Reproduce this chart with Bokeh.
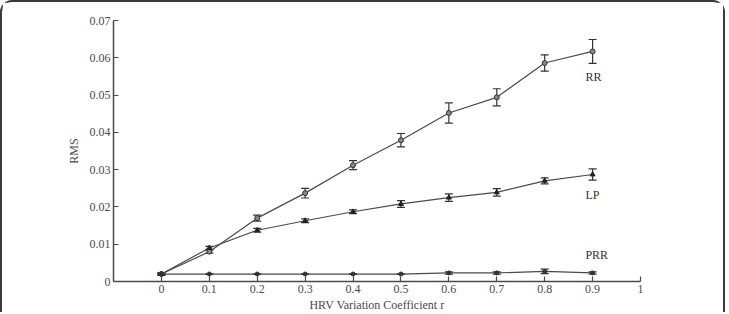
from bokeh.plotting import figure
from bokeh.models import ColumnDataSource, Whisker, TeeHead, FixedTicker, Label, Range1d
from bokeh.embed import file_html
from bokeh.resources import INLINE

r = [0, 0.1, 0.2, 0.3, 0.4, 0.5, 0.6, 0.7, 0.8, 0.9]
rr = [0.002, 0.008, 0.0170, 0.0237, 0.0312, 0.0379, 0.0452, 0.0494, 0.0586, 0.0617]
rr_err = [0.0003, 0.0004, 0.0008, 0.0013, 0.0012, 0.0018, 0.0027, 0.0023, 0.0022, 0.0032]
lp = [0.002, 0.009, 0.01375, 0.0163, 0.0187, 0.0208, 0.0225, 0.0239, 0.0270, 0.0287]
lp_err = [0.0003, 0.0004, 0.0005, 0.0005, 0.0005, 0.0009, 0.0010, 0.0010, 0.0008, 0.0015]
prr = [0.002, 0.002, 0.002, 0.002, 0.002, 0.002, 0.0023, 0.0023, 0.0027, 0.0023]
prr_err = [0.0002, 0.0001, 0.0001, 0.0001, 0.0001, 0.0001, 0.0003, 0.0003, 0.0006, 0.0003]

x_ticks = [0, 0.1, 0.2, 0.3, 0.4, 0.5, 0.6, 0.7, 0.8, 0.9, 1.0]
x_labels = ["0", "0.1", "0.2", "0.3", "0.4", "0.5", "0.6", "0.7", "0.8", "0.9", "1"]
y_ticks = [0, 0.01, 0.02, 0.03, 0.04, 0.05, 0.06, 0.07]
y_labels = ["0", "0.01", "0.02", "0.03", "0.04", "0.05", "0.06", "0.07"]

series_names = ["RR", "LP", "PRR"]
label_pos_x = [0.885, 0.885, 0.885]
label_pos_y = [0.0548, 0.0232, 0.0072]

FONT = "Liberation Serif"
GREY = "#4a4a4a"

p = figure(width=725, height=312, output_backend="svg", toolbar_location=None,
           x_range=Range1d(-0.1, 1.0), y_range=Range1d(0, 0.07),
           min_border_left=111, min_border_right=87, min_border_top=18, min_border_bottom=25)
p.styles = {"border": "2px solid #3a3a3a", "border-bottom": "none",
            "border-radius": "12px 12px 0 0"}
p.grid.visible = False
p.outline_line_color = None

for ax in (p.xaxis[0], p.yaxis[0]):
    ax.axis_line_color = GREY
    ax.axis_line_width = 1.5
    ax.major_tick_line_color = GREY
    ax.major_tick_line_width = 1.2
    ax.major_tick_in = 5
    ax.major_tick_out = 0
    ax.minor_tick_line_color = None
    ax.major_label_text_font = FONT
    ax.major_label_text_font_size = "12px"
    ax.major_label_text_color = GREY
    ax.axis_label_text_font = FONT
    ax.axis_label_text_font_size = "12px"
    ax.axis_label_text_font_style = "normal"
    ax.axis_label_text_color = GREY

p.xaxis.ticker = FixedTicker(ticks=x_ticks)
p.xaxis.major_label_overrides = {t: l for t, l in zip(x_ticks, x_labels)}
p.xaxis.axis_label = "HRV Variation Coefficient r"
p.xaxis.major_label_standoff = 3
p.xaxis.axis_label_standoff = 2
p.yaxis.ticker = FixedTicker(ticks=y_ticks)
p.yaxis.major_label_overrides = {t: l for t, l in zip(y_ticks, y_labels)}
p.yaxis.axis_label = "RMS"
p.yaxis.major_label_standoff = 3
p.yaxis.axis_label_standoff = 6

all_series = [(rr, rr_err), (lp, lp_err), (prr, prr_err)]
for i, (vals, errs) in enumerate(all_series):
    src = ColumnDataSource(dict(x=r, y=vals,
                                lo=[v - e for v, e in zip(vals, errs)],
                                hi=[v + e for v, e in zip(vals, errs)]))
    p.line("x", "y", source=src, line_color=GREY, line_width=1.2)
    w = Whisker(base="x", upper="hi", lower="lo", source=src,
                line_color="#333333", line_width=1.2,
                upper_head=TeeHead(size=8, line_color="#333333", line_width=1.2),
                lower_head=TeeHead(size=8, line_color="#333333", line_width=1.2))
    p.add_layout(w)
    if i == 0:
        p.scatter("x", "y", source=src, marker="circle", size=5,
                  fill_color="#888888", line_color="#333333", line_width=1)
    elif i == 1:
        p.scatter("x", "y", source=src, marker="triangle", size=5,
                  fill_color="#222222", line_color="#222222")
    else:
        p.scatter("x", "y", source=src, marker="circle", size=4,
                  fill_color="#333333", line_color="#333333")

for name, lx, ly in zip(series_names, label_pos_x, label_pos_y):
    p.add_layout(Label(x=lx, y=ly, text=name, text_font=FONT, text_font_size="12px",
                       text_color="#333333", text_baseline="middle", text_align="left"))

open("out.html", "w").write(file_html(p, INLINE))
